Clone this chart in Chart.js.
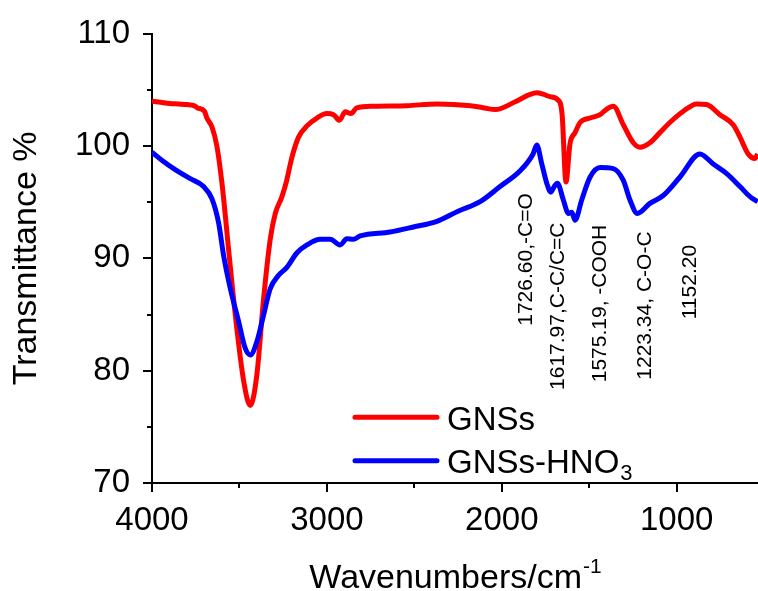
<!DOCTYPE html>
<html>
<head>
<meta charset="utf-8">
<script src="https://cdn.jsdelivr.net/npm/chart.js@4.4.0/dist/chart.umd.min.js"></script>
<style>
  html, body { margin: 0; padding: 0; background: #fff; }
  #wrap { width: 758px; height: 591px; }
</style>
</head>
<body>
<div id="wrap"><canvas id="ftirChart" width="758" height="591"></canvas></div>
<script>
// GNSs spectrum (wavenumber, transmittance %)
const gnssWn = [4000, 3950, 3900, 3850, 3800, 3760, 3740, 3700, 3686, 3657, 3629, 3600, 3562, 3524, 3476,
  3438, 3400, 3362, 3324, 3295, 3257, 3229, 3200, 3162, 3114, 3057, 3000, 2962, 2928, 2895, 2863, 2829,
  2733, 2543, 2371, 2180, 2100, 2037, 1923, 1838, 1800, 1760, 1724, 1678, 1655, 1633, 1610, 1581, 1552,
  1495, 1438, 1400, 1362, 1305, 1248, 1210, 1153, 1096, 1039, 962, 886, 829, 753, 677, 638, 591, 553, 537];
const gnssT = [104.0, 103.9, 103.8, 103.75, 103.7, 103.6, 103.4, 103.1, 102.5, 101.7, 100.0, 96.7, 90.8, 85.0, 79.1,
  76.9, 79.7, 86.4, 91.7, 94.0, 95.5, 97.0, 99.0, 100.8, 101.8, 102.5, 102.9, 102.8, 102.3, 103.05, 102.9, 103.4,
  103.55, 103.6, 103.75, 103.6, 103.4, 103.25, 103.95, 104.6, 104.75, 104.6, 104.4, 104.1, 102.8, 96.8, 100.2, 101.2, 102.1,
  102.5, 102.8, 103.3, 103.55, 101.9, 100.3, 99.9, 100.3, 101.2, 102.1, 103.1, 103.76, 103.7, 102.8, 101.9, 100.8, 99.3, 98.9, 99.3];

// GNSs-HNO3 spectrum
const hno3Wn = [4000, 3940, 3876, 3781, 3705, 3657, 3619, 3590, 3552, 3505, 3467, 3438, 3400, 3362, 3324,
  3276, 3229, 3171, 3114, 3038, 2981, 2924, 2886, 2848, 2810, 2638, 2505, 2371, 2250, 2124, 2010, 1895,
  1821, 1800, 1771, 1743, 1720, 1700, 1682, 1648, 1619, 1600, 1581, 1543, 1495, 1438, 1362, 1305, 1267,
  1225, 1153, 1077, 981, 867, 791, 714, 638, 581, 537];
const hno3T = [99.45, 98.7, 98.0, 97.1, 96.4, 95.3, 93.15, 90.2, 87.3, 84.4, 82.0, 81.4, 82.6, 84.95, 87.3,
  88.5, 89.2, 90.5, 91.2, 91.7, 91.7, 91.2, 91.75, 91.7, 92.0, 92.35, 92.8, 93.3, 94.2, 95.05, 96.4, 97.8,
  99.3, 100.1, 98.4, 96.7, 95.9, 96.4, 96.7, 95.2, 94.0, 94.1, 93.4, 95.2, 97.25, 98.1, 98.0, 96.95, 95.2,
  94.0, 94.9, 95.6, 97.25, 99.3, 98.4, 97.55, 96.4, 95.5, 95.05];

const xTicks = [4000, 3500, 3000, 2500, 2000, 1500, 1000];
const yTicks = [70, 75, 80, 85, 90, 95, 100, 105, 110];

// peak annotations: text, placed at wavenumber, top end at transmittance value
const peakText = ["1726.60,-C=O", "1617.97,C-C/C=C", "1575.19, -COOH", "1223.34, C-O-C", "1152.20"];
const peakAtWn = [1863, 1678, 1438, 1181, 924];
const peakTopT = [95.8, 93.2, 93.0, 92.4, 91.2];

const FONT = '"Liberation Sans", Arial, sans-serif';

function toPoints(xs, ys) {
  return xs.map((x, i) => ({ x: x, y: ys[i] }));
}

const decorations = {
  id: "decorations",
  afterDraw(chart) {
    const ctx = chart.ctx;
    const xs = chart.scales.x;
    const ys = chart.scales.y;
    const area = chart.chartArea;
    ctx.save();

    // tick marks (major long, minor short)
    ctx.strokeStyle = "#000";
    ctx.lineWidth = 2;
    xTicks.forEach((v) => {
      const px = Math.round(xs.getPixelForValue(v));
      const len = v % 1000 === 0 ? 9 : 5;
      ctx.beginPath();
      ctx.moveTo(px, area.bottom);
      ctx.lineTo(px, area.bottom + len);
      ctx.stroke();
    });
    yTicks.forEach((v) => {
      const py = Math.round(ys.getPixelForValue(v));
      const len = v % 10 === 0 ? 9 : 5;
      ctx.beginPath();
      ctx.moveTo(area.left, py);
      ctx.lineTo(area.left - len, py);
      ctx.stroke();
    });

    ctx.fillStyle = "#000";

    // y title
    ctx.save();
    ctx.font = "34px " + FONT;
    ctx.textAlign = "center";
    ctx.textBaseline = "middle";
    ctx.translate(27, (area.top + area.bottom) / 2);
    ctx.rotate(-Math.PI / 2);
    ctx.fillText("Transmittance %", 0, 0);
    ctx.restore();

    // x title with superscript
    ctx.font = "34px " + FONT;
    const main = "Wavenumbers/cm";
    const wMain = ctx.measureText(main).width;
    ctx.font = "21px " + FONT;
    const wSup = ctx.measureText("-1").width;
    const startX = (area.left + area.right) / 2 - (wMain + wSup) / 2;
    ctx.textAlign = "left";
    ctx.textBaseline = "alphabetic";
    ctx.font = "34px " + FONT;
    ctx.fillText(main, startX, 588);
    ctx.font = "21px " + FONT;
    ctx.fillText("-1", startX + wMain + 1, 573);

    // peak annotations
    ctx.font = "21px " + FONT;
    peakText.forEach((t, i) => {
      ctx.save();
      ctx.translate(xs.getPixelForValue(peakAtWn[i]), ys.getPixelForValue(peakTopT[i]));
      ctx.rotate(-Math.PI / 2);
      ctx.textAlign = "right";
      ctx.textBaseline = "middle";
      ctx.fillText(t, 0, 0);
      ctx.restore();
    });

    // legend
    const legendItems = [
      { color: "#ff0000", text: "GNSs", sub: "" },
      { color: "#0000ff", text: "GNSs-HNO", sub: "3" },
    ];
    const lx = area.left + 203;
    const ly = area.top + 383.5;
    legendItems.forEach((item, i) => {
      const y = ly + i * 43.5;
      ctx.strokeStyle = item.color;
      ctx.lineWidth = 5;
      ctx.lineCap = "round";
      ctx.beginPath();
      ctx.moveTo(lx, y);
      ctx.lineTo(lx + 82, y);
      ctx.stroke();
      ctx.fillStyle = "#000";
      ctx.font = "33px " + FONT;
      ctx.textAlign = "left";
      ctx.textBaseline = "alphabetic";
      ctx.fillText(item.text, lx + 92, y + 12.5);
      if (item.sub) {
        const w = ctx.measureText(item.text).width;
        ctx.font = "22px " + FONT;
        ctx.fillText(item.sub, lx + 92 + w + 1, y + 19);
      }
    });

    ctx.restore();
  },
};

const ctx = document.getElementById("ftirChart").getContext("2d");

new Chart(ctx, {
  type: "line",
  data: {
    datasets: [
      {
        label: "GNSs-HNO3",
        data: toPoints(hno3Wn, hno3T),
        borderColor: "#0000ff",
        borderWidth: 5,
        pointRadius: 0,
        cubicInterpolationMode: "monotone",
        fill: false,
        order: 0,
      },
      {
        label: "GNSs",
        data: toPoints(gnssWn, gnssT),
        borderColor: "#ff0000",
        borderWidth: 5,
        pointRadius: 0,
        cubicInterpolationMode: "monotone",
        fill: false,
        order: 1,
      },
    ],
  },
  options: {
    responsive: false,
    animation: false,
    devicePixelRatio: 1,
    layout: { padding: { top: 28, right: 0, left: 0, bottom: 0 } },
    plugins: {
      legend: { display: false },
      tooltip: { enabled: false },
    },
    scales: {
      x: {
        type: "linear",
        reverse: true,
        min: 535,
        max: 4000,
        afterBuildTicks: (scale) => {
          scale.ticks = xTicks.map((v) => ({ value: v }));
        },
        afterFit: (scale) => {
          scale.height = 108;
        },
        grid: { display: false },
        border: { display: true, color: "#000", width: 2 },
        ticks: {
          color: "#000",
          font: { family: FONT, size: 33 },
          padding: 10,
          maxRotation: 0,
          autoSkip: false,
          callback: (v) => (v % 1000 === 0 ? String(v) : ""),
        },
      },
      y: {
        min: 70,
        max: 110,
        afterBuildTicks: (scale) => {
          scale.ticks = yTicks.map((v) => ({ value: v }));
        },
        afterFit: (scale) => {
          scale.width = 152;
        },
        grid: { display: false },
        border: { display: true, color: "#000", width: 2 },
        ticks: {
          color: "#000",
          font: { family: FONT, size: 33 },
          padding: 14,
          autoSkip: false,
          callback: (v) => (v % 10 === 0 ? String(v) : ""),
        },
      },
    },
  },
  plugins: [decorations],
});
</script>
</body>
</html>
